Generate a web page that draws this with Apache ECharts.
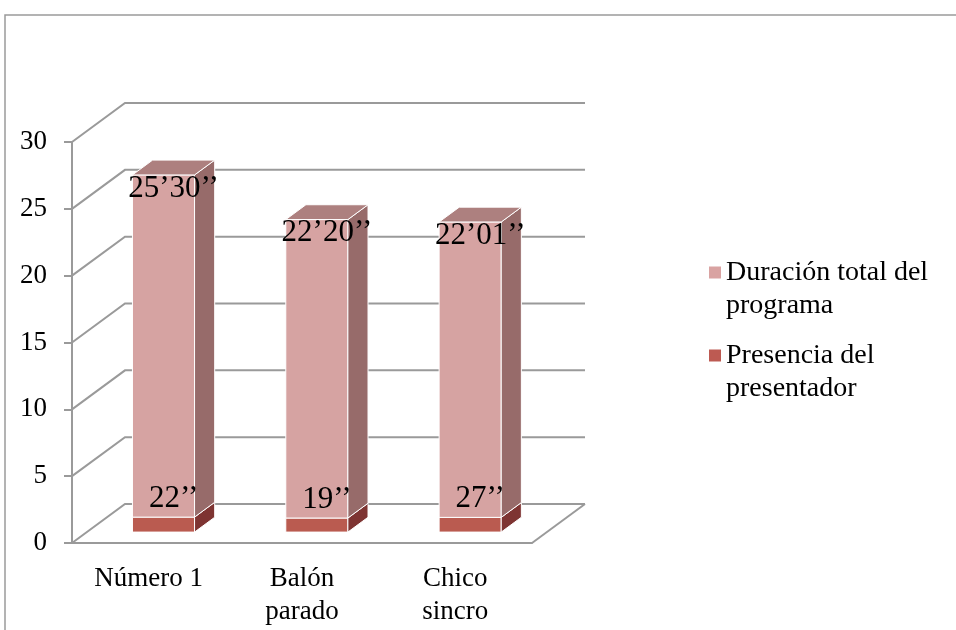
<!DOCTYPE html>
<html>
<head>
<meta charset="utf-8">
<script src="https://cdn.jsdelivr.net/npm/echarts@6/dist/echarts.min.js"></script>
<style>
  html, body { margin: 0; padding: 0; background: #fff; }
  #chart { width: 956px; height: 630px; }
</style>
</head>
<body>
<div id="chart"></div>
<script>
const categories = ['Número 1', 'Balón\nparado', 'Chico\nsincro'];
const presenter = [1.12, 1.05, 1.1];
const totalDuration = [25.6, 22.33, 22.1];
const presenterLabels = ['22’’', '19’’', '27’’'];
const totalLabels = ['25’30’’', '22’20’’', '22’01’’'];
const yTicks = [0, 5, 10, 15, 20, 25, 30];
const seriesNames = ['Duración total del programa', 'Presencia del presentador'];

// oblique depth of the floor, and where the bars sit in it
const DX = 53;
const DY = -39;
const Z_FRONT = 0.28;
const Z_BACK = 0.66;
const BAR_RATIO = 0.405;
const FONT = '"Liberation Serif", "DejaVu Serif", serif';
const GRID_COLOR = '#9a9a9a';

const chart = echarts.init(document.getElementById('chart'));

const makeBox = (colors, labelText, labelOffset, drawTop) => (params, api) => {
  const idx = api.value(0);
  const lo = api.coord([idx, api.value(1)]);
  const hi = api.coord([idx, api.value(2)]);
  const w = api.size([1, 0])[0] * BAR_RATIO;
  const fx = lo[0] - w / 2 + DX * Z_FRONT;
  const fy0 = lo[1] + DY * Z_FRONT;
  const fy1 = hi[1] + DY * Z_FRONT;
  const ddx = DX * (Z_BACK - Z_FRONT);
  const ddy = DY * (Z_BACK - Z_FRONT);
  const edge = { stroke: '#ffffff', lineWidth: 1 };
  const children = [
    {
      type: 'rect',
      shape: { x: fx, y: fy1, width: w, height: fy0 - fy1 },
      style: Object.assign({ fill: colors[0] }, edge)
    },
    {
      type: 'polygon',
      shape: { points: [[fx + w, fy1], [fx + w + ddx, fy1 + ddy], [fx + w + ddx, fy0 + ddy], [fx + w, fy0]] },
      style: Object.assign({ fill: colors[1] }, edge)
    }
  ];
  if (drawTop) {
    children.push({
      type: 'polygon',
      shape: { points: [[fx, fy1], [fx + ddx, fy1 + ddy], [fx + w + ddx, fy1 + ddy], [fx + w, fy1]] },
      style: Object.assign({ fill: colors[2] }, edge)
    });
  }
  children.push({
    type: 'text',
    z2: 50,
    style: {
      text: labelText[params.dataIndex],
      x: lo[0] + DX * (Z_FRONT + Z_BACK) / 2,
      y: fy1 + labelOffset,
      align: 'center',
      verticalAlign: 'middle',
      font: '31px ' + FONT,
      fill: '#000'
    }
  });
  return { type: 'group', children };
};

const option = {
  animation: false,
  backgroundColor: '#fff',
  textStyle: { fontFamily: FONT },
  graphic: [
    {
      type: 'rect',
      silent: true,
      shape: { x: 5, y: 15, width: 1200, height: 1000 },
      style: { fill: 'none', stroke: '#9a9a9a', lineWidth: 1.5 }
    }
  ],
  legend: {
    data: seriesNames,
    orient: 'vertical',
    left: 709,
    top: 223,
    padding: 0,
    itemGap: -16,
    itemWidth: 12,
    itemHeight: 12,
    icon: 'rect',
    // blank first line keeps the swatch level with the first text line
    formatter: name => '\n' + name.replace(/ (\S+)$/, '\n$1'),
    textStyle: {
      fontFamily: FONT,
      fontSize: 28,
      lineHeight: 33,
      color: '#000'
    }
  },
  grid: { left: 72, right: 424, top: 142, bottom: 87 },
  xAxis: {
    type: 'category',
    data: categories,
    axisLine: { lineStyle: { color: GRID_COLOR, width: 2 } },
    axisTick: { length: 8, lineStyle: { color: GRID_COLOR, width: 2 } },
    axisLabel: { color: '#000', fontFamily: FONT, fontSize: 27, lineHeight: 33, margin: 19 }
  },
  yAxis: {
    type: 'value',
    min: 0,
    max: 30,
    interval: 5,
    axisLine: { show: true, lineStyle: { color: GRID_COLOR, width: 2 } },
    axisTick: { show: true, length: 8, lineStyle: { color: GRID_COLOR, width: 2 } },
    axisLabel: { color: '#000', fontFamily: FONT, fontSize: 27, margin: 25 },
    splitLine: { show: false }
  },
  series: [
    {
      type: 'custom',
      silent: true,
      z: 1,
      data: yTicks.map(v => [0, v]),
      renderItem: (params, api) => {
        const cs = params.coordSys;
        const y = api.coord([0, api.value(1)])[1];
        const style = { stroke: GRID_COLOR, lineWidth: 2, fill: 'none' };
        const children = [{
          type: 'polyline',
          shape: { points: [[cs.x, y], [cs.x + DX, y + DY], [cs.x + cs.width + DX, y + DY]] },
          style
        }];
        if (api.value(1) === 0) {
          children.push({
            type: 'line',
            shape: { x1: cs.x + cs.width, y1: y, x2: cs.x + cs.width + DX, y2: y + DY },
            style
          });
        }
        return { type: 'group', children };
      }
    },
    {
      name: seriesNames[1],
      type: 'custom',
      itemStyle: { color: '#BD5A52' },
      encode: { x: 0, y: [1, 2] },
      data: presenter.map((v, i) => [i, 0, v]),
      renderItem: makeBox(['#BA5B50', '#7E3432', '#9A4540'], presenterLabels, -18.5, false)
    },
    {
      name: seriesNames[0],
      type: 'custom',
      itemStyle: { color: '#D9A3A2' },
      encode: { x: 0, y: [1, 2] },
      data: totalDuration.map((v, i) => [i, presenter[i], presenter[i] + v]),
      renderItem: makeBox(['#D6A3A2', '#976B6A', '#AD807F'], totalLabels, 13.5, true)
    }
  ]
};

chart.setOption(option);
</script>
</body>
</html>
